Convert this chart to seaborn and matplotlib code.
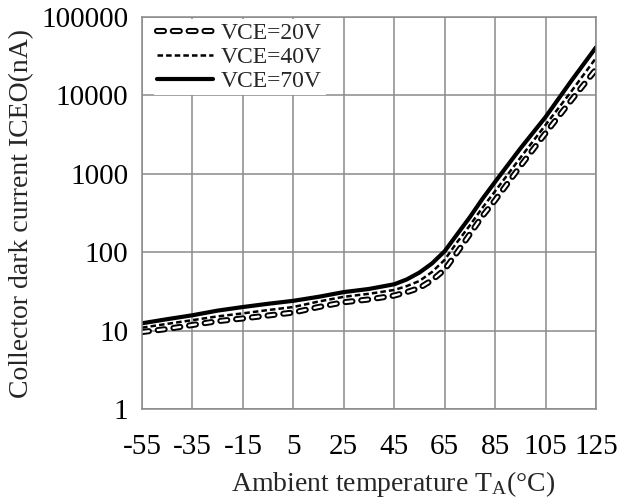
import matplotlib
matplotlib.use("Agg")
import matplotlib.pyplot as plt
import matplotlib.patheffects as pe
import seaborn as sns
import pandas as pd

temps = [-55, -45, -35, -25, -15, -5, 5, 15, 25, 35, 45, 50, 55, 60, 65, 70, 75, 80, 85, 95, 105, 115, 125]
iceo_20v = [9.6, 10.5, 11.8, 13.2, 14.3, 15.6, 17, 20, 23, 25, 28, 31, 35, 44, 60, 100, 170, 290, 460, 1250, 3300, 8500, 21500]
iceo_40v = [10.9, 12.2, 13.6, 15.2, 16.6, 18.3, 20, 23.5, 27, 29.5, 33, 37, 43, 56, 80, 135, 220, 370, 600, 1600, 4200, 11000, 30000]
iceo_70v = [12.4, 14, 15.7, 18, 20, 22, 24, 27, 31, 34, 39, 45, 55, 72, 103, 170, 280, 480, 790, 2100, 5300, 15000, 41000]
series_labels = ["VCE=20V", "VCE=40V", "VCE=70V"]
xtick_vals = [-55, -35, -15, 5, 25, 45, 65, 85, 105, 125]
ytick_vals = [1, 10, 100, 1000, 10000, 100000]
ytick_labels = ["1", "10", "100", "1000", "10000", "100000"]

sns.set_style("white")
plt.rcParams["font.family"] = ["Liberation Serif", "DejaVu Serif"]
plt.rcParams["mathtext.fontset"] = "custom"
plt.rcParams["mathtext.rm"] = "Liberation Serif"
plt.rcParams["mathtext.it"] = "Liberation Serif:italic"
plt.rcParams["lines.scale_dashes"] = False

df = pd.DataFrame({"T": temps * 3,
                   "I": iceo_20v + iceo_40v + iceo_70v,
                   "s": [series_labels[0]] * len(temps) + [series_labels[1]] * len(temps) + [series_labels[2]] * len(temps)})

fig = plt.figure(figsize=(6.27, 5.01), dpi=100)
ax = fig.add_axes([0.2265, 0.1836, 0.724, 0.7824])

gridc = "#8a8a8a"

sns.lineplot(data=df[df.s == series_labels[0]], x="T", y="I", ax=ax, color="white",
             lw=1.6, label=series_labels[0],
             path_effects=[pe.Stroke(linewidth=4.4, foreground="black"), pe.Normal()])
ax.lines[-1].set_dashes((5, 6.4))
ax.lines[-1].set_dash_capstyle("round")
sns.lineplot(data=df[df.s == series_labels[1]], x="T", y="I", ax=ax, color="black",
             lw=1.8, label=series_labels[1])
ax.lines[-1].set_dashes((4, 2.2))
sns.lineplot(data=df[df.s == series_labels[2]], x="T", y="I", ax=ax, color="black",
             lw=3.0, label=series_labels[2])

ax.set_yscale("log")
ax.set_xlim(-55, 125)
ax.set_ylim(1, 100000)
ax.set_xticks(xtick_vals)
ax.set_xticklabels([str(v) for v in xtick_vals])
ax.set_yticks(ytick_vals)
ax.set_yticklabels(ytick_labels)
ax.minorticks_off()
ax.grid(True, which="major", color=gridc, lw=1.1)
ax.set_axisbelow(True)
for sp in ax.spines.values():
    sp.set_color(gridc)
    sp.set_linewidth(1.1)
    sp.set_visible(True)
ax.tick_params(axis="both", length=0, labelsize=21, colors="black")
ax.tick_params(axis="x", pad=18)
ax.tick_params(axis="y", pad=10)
ax.set_xlabel(r"Ambient temperature T$_{\mathrm{A}}$(°C)", fontsize=20)
ax.xaxis.set_label_coords(0.553, -0.152)
ax.set_ylabel("Collector dark current ICEO(nA)", fontsize=20, labelpad=5)

leg = ax.legend(loc="upper left", bbox_to_anchor=(0.026, 0.995), fontsize=17, frameon=True,
                fancybox=False, edgecolor="white", facecolor="white", framealpha=1,
                handlelength=2.35, handletextpad=0.35, labelspacing=0.1, borderpad=0.15,
                borderaxespad=0.0)
leg.get_frame().set_linewidth(0)

fig.savefig("out.png", dpi=100)
